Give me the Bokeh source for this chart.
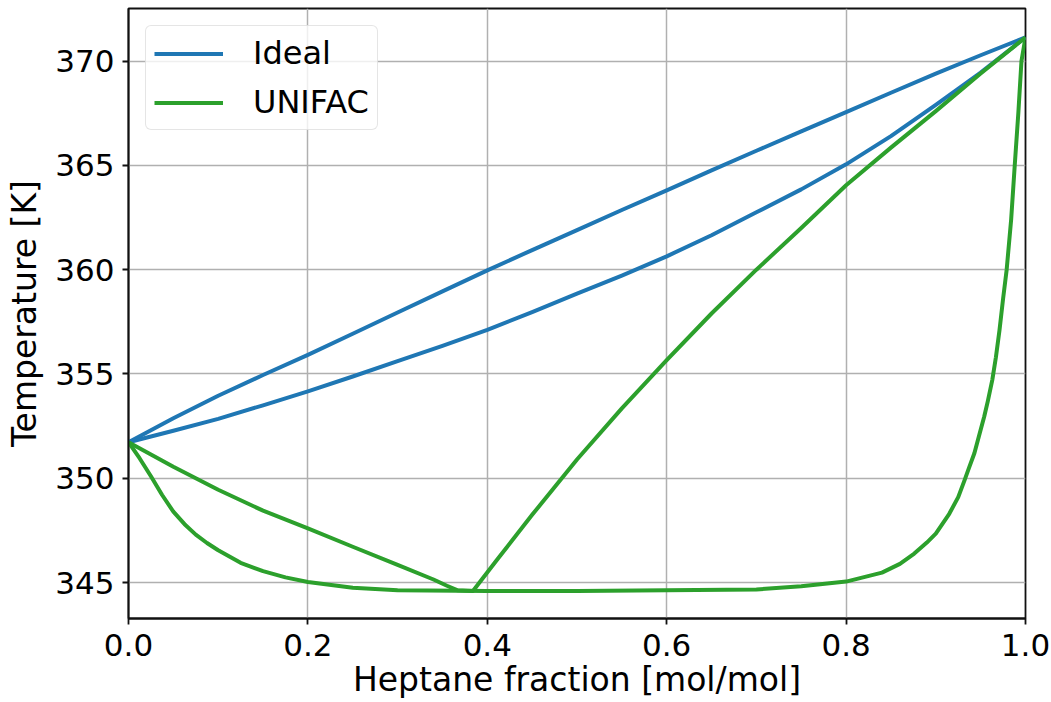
from bokeh.plotting import figure
from bokeh.models import Range1d, FixedTicker, PrintfTickFormatter, Legend, LegendItem
from bokeh.embed import file_html
from bokeh.resources import INLINE

# ---- data ----
ideal_x = [0.0, 0.05, 0.1, 0.15, 0.2, 0.25, 0.3, 0.35, 0.4, 0.45, 0.5,
           0.55, 0.6, 0.65, 0.7, 0.75, 0.8, 0.85, 0.9, 0.95, 1.0]
ideal_bubble_T = [351.73, 352.28, 352.85, 353.5, 354.17, 354.88, 355.62, 356.35, 357.12, 357.97,
                  358.85, 359.72, 360.64, 361.65, 362.75, 363.85, 365.05, 366.4, 367.9, 369.45,
                  371.14]
ideal_dew_T = [351.73, 352.88, 353.96, 354.95, 355.92, 356.93, 357.95, 358.96, 359.97, 360.94,
               361.9, 362.86, 363.8, 364.76, 365.7, 366.63, 367.55, 368.48, 369.4, 370.28,
               371.14]

unifac_bubble_x = [0.0, 0.0125, 0.025, 0.0375, 0.05, 0.0625, 0.075, 0.0875, 0.1, 0.1125,
                   0.125, 0.15, 0.175, 0.2, 0.25, 0.3, 0.4, 0.5, 0.6, 0.7, 0.75, 0.8,
                   0.84, 0.86, 0.876, 0.89, 0.9, 0.915, 0.925, 0.932, 0.937, 0.943, 0.948,
                   0.954, 0.958, 0.963, 0.967, 0.971, 0.975, 0.979, 0.984, 0.988, 0.992,
                   0.9955, 1.0]
unifac_bubble_T = [351.73, 350.95, 350.1, 349.2, 348.4, 347.8, 347.3, 346.9, 346.55, 346.25,
                   345.95, 345.55, 345.25, 345.03, 344.75, 344.63, 344.6, 344.6, 344.64, 344.67,
                   344.83, 345.05, 345.48, 345.9, 346.39, 346.92, 347.35, 348.3, 349.1, 349.9,
                   350.5, 351.2, 352.0, 352.96, 353.7, 354.72, 355.8, 357.1, 358.6, 360.0,
                   362.4, 365.0, 367.5, 370.0, 371.14]

unifac_dew_x = [0.0, 0.05, 0.1, 0.15, 0.2, 0.25, 0.3, 0.34, 0.355, 0.367, 0.384, 0.41, 0.45,
                0.5, 0.55, 0.6, 0.65, 0.7, 0.75, 0.8, 0.85, 0.9, 0.95, 1.0]
unifac_dew_T = [351.73, 350.55, 349.45, 348.45, 347.6, 346.72, 345.85, 345.15, 344.85, 344.63,
                344.6, 346.05, 348.25, 350.9, 353.35, 355.67, 357.9, 360.0, 362.0, 364.05,
                365.85, 367.6, 369.4, 371.14]

x_ticks = [0.0, 0.2, 0.4, 0.6, 0.8, 1.0]
y_ticks = [345, 350, 355, 360, 365, 370]

series_labels = ["Ideal", "UNIFAC"]
x_label = "Heptane fraction [mol/mol]"
y_label = "Temperature [K]"

# ---- styles ----
BLUE = "#1f77b4"
GREEN = "#2ca02c"
FONT = "DejaVu Sans"
TICK_FS = "31px"
LABEL_FS = "33px"
LEGEND_FS = "32px"

p = figure(width=1051, height=702, output_backend="svg", toolbar_location=None,
           x_range=Range1d(0.0, 1.0), y_range=Range1d(343.28, 372.52),
           min_border_left=128, min_border_right=26, min_border_top=8, min_border_bottom=84)

p.background_fill_color = "white"
p.border_fill_color = "white"
p.outline_line_color = "#111111"
p.outline_line_width = 1.8

r1 = p.line(ideal_x, ideal_dew_T, line_color=BLUE, line_width=4, line_join="round")
r2 = p.line(ideal_x, ideal_bubble_T, line_color=BLUE, line_width=4, line_join="round")
r3 = p.line(unifac_dew_x, unifac_dew_T, line_color=GREEN, line_width=4, line_join="round")
r4 = p.line(unifac_bubble_x, unifac_bubble_T, line_color=GREEN, line_width=4, line_join="round")

# axes
p.xaxis.ticker = FixedTicker(ticks=x_ticks)
p.yaxis.ticker = FixedTicker(ticks=y_ticks)
p.xaxis.formatter = PrintfTickFormatter(format="%.1f")
p.yaxis.formatter = PrintfTickFormatter(format="%d")
p.xaxis.axis_label = x_label
p.yaxis.axis_label = y_label
for ax in (p.xaxis, p.yaxis):
    ax.major_label_text_font = FONT
    ax.major_label_text_font_size = TICK_FS
    ax.major_label_text_color = "black"
    ax.axis_label_text_font = FONT
    ax.axis_label_text_font_size = LABEL_FS
    ax.axis_label_text_font_style = "normal"
    ax.axis_label_text_color = "black"
    ax.axis_line_color = "#111111"
    ax.axis_line_width = 1.8
    ax.major_tick_line_color = "#111111"
    ax.major_tick_line_width = 1.8
    ax.major_tick_out = 6
    ax.major_tick_in = 0
    ax.minor_tick_line_color = None
p.xaxis.major_label_standoff = 9
p.xaxis.axis_label_standoff = 1
p.yaxis.major_label_standoff = 8
p.yaxis.axis_label_standoff = 8

for g in (p.xgrid, p.ygrid):
    g.grid_line_color = "#b0b0b0"
    g.grid_line_width = 1.5

legend = Legend(items=[LegendItem(label=series_labels[0], renderers=[r1]),
                       LegendItem(label=series_labels[1], renderers=[r3])],
                location="top_left", margin=17, padding=8, spacing=11,
                glyph_width=69, glyph_height=37, label_height=37, label_standoff=30,
                label_text_font=FONT, label_text_font_size=LEGEND_FS, label_text_color="black",
                border_line_color="#cccccc", border_line_width=1.5,
                background_fill_color="white", background_fill_alpha=0.8)
if "border_radius" in Legend.properties():
    legend.border_radius = 6
p.add_layout(legend)

open("out.html", "w").write(file_html(p, INLINE))
